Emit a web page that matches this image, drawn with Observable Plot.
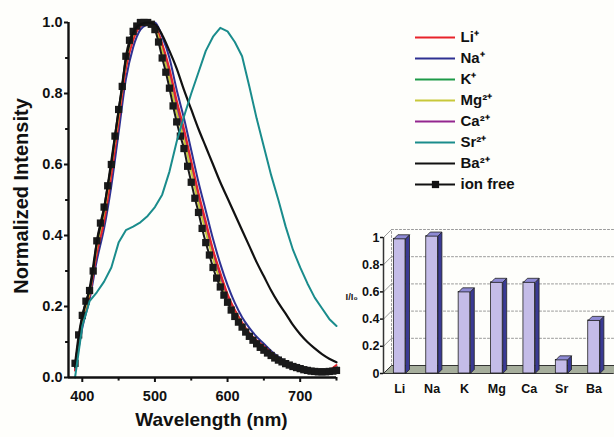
<!DOCTYPE html>
<html><head><meta charset="utf-8">
<script src="https://cdn.jsdelivr.net/npm/d3@7"></script>
<script src="https://cdn.jsdelivr.net/npm/@observablehq/plot@0.6"></script>
<style>
body{margin:0;background:#fff}
#fig{position:relative;width:614px;height:437px;background:#fefefb;overflow:hidden;font-family:"Liberation Sans",Arial,Helvetica,sans-serif}
#main,#legend,#inset{position:absolute}
#main{left:0;top:0}
#legend{left:400px;top:0}
#inset{left:330px;top:220px}
#main g[aria-label^="x-axis"] line,#main g[aria-label^="x-axis"] path,
#main g[aria-label^="y-axis"] line,#main g[aria-label^="y-axis"] path{stroke-width:2px}
#inset g[aria-label^="y-axis"] line,#inset g[aria-label^="y-axis"] path{stroke-width:1.5px}
</style>
</head><body>
<div id="fig"><div id="main"></div><div id="legend"></div><div id="inset"></div></div>
<script>
// ---------- data ----------
const wl10 = [390,400,410,420,430,440,450,460,470,480,490,500,510,520,530,540,550,560,570,580,590,600,610,620,630,640,650,660,670,680,690,700,710,720,730,740,750];
const wl5 = [390,395,400,405,410,415,420,425,430,435,440,445,450,455,460,465,470,475,480,485,490,495,500,505,510,515,520,525,530,535,540,545,550,555,560,565,570,575,580,585,590,595,600,605,610,615,620,625,630,635,640,645,650,655,660,665,670,675,680,685,690,695,700,705,710,715,720,725,730,735,740,745,750];
const ionFree = [0.04,0.12,0.175,0.215,0.245,0.30,0.385,0.435,0.48,0.54,0.60,0.68,0.755,0.82,0.905,0.95,0.975,0.99,1.0,1.0,1.0,0.995,0.98,0.945,0.9,0.86,0.815,0.765,0.72,0.68,0.645,0.595,0.55,0.505,0.465,0.42,0.38,0.345,0.31,0.28,0.255,0.232,0.212,0.19,0.172,0.156,0.142,0.128,0.116,0.105,0.095,0.085,0.077,0.069,0.062,0.055,0.049,0.044,0.039,0.035,0.031,0.028,0.025,0.022,0.02,0.018,0.017,0.016,0.016,0.016,0.017,0.018,0.02];
const li = [0.02,0.15,0.23,0.35,0.44,0.57,0.72,0.87,0.95,0.99,1.0,0.99,0.94,0.87,0.78,0.70,0.61,0.52,0.44,0.36,0.295,0.235,0.19,0.155,0.125,0.105,0.088,0.07,0.054,0.04,0.029,0.02,0.014,0.012,0.014,0.02,0.035];
const na = [0.02,0.14,0.22,0.33,0.42,0.54,0.69,0.84,0.93,0.98,0.995,1.0,0.96,0.9,0.81,0.73,0.64,0.55,0.47,0.39,0.32,0.26,0.21,0.17,0.14,0.115,0.095,0.075,0.058,0.044,0.032,0.023,0.017,0.014,0.015,0.02,0.03];
const k = [0.025,0.155,0.235,0.355,0.45,0.58,0.73,0.875,0.955,0.99,1.0,0.99,0.935,0.86,0.77,0.69,0.6,0.51,0.43,0.355,0.29,0.23,0.188,0.152,0.123,0.1,0.085,0.068,0.052,0.039,0.028,0.02,0.015,0.012,0.013,0.018,0.03];
const mg = [0.03,0.165,0.24,0.37,0.465,0.6,0.74,0.89,0.965,0.995,1.0,0.985,0.92,0.84,0.745,0.67,0.58,0.49,0.41,0.335,0.27,0.215,0.18,0.148,0.12,0.098,0.082,0.066,0.052,0.04,0.03,0.022,0.016,0.013,0.014,0.018,0.028];
const ca = [0.025,0.16,0.235,0.36,0.455,0.585,0.735,0.88,0.96,0.99,1.0,0.99,0.93,0.855,0.76,0.685,0.595,0.505,0.425,0.35,0.285,0.225,0.185,0.15,0.122,0.1,0.084,0.067,0.051,0.038,0.028,0.02,0.015,0.012,0.013,0.017,0.028];
const sr = [0.0,0.145,0.215,0.24,0.27,0.31,0.38,0.415,0.425,0.437,0.455,0.48,0.515,0.58,0.665,0.735,0.80,0.86,0.92,0.96,0.985,0.975,0.945,0.905,0.82,0.73,0.65,0.57,0.5,0.425,0.36,0.31,0.265,0.225,0.195,0.165,0.145];
const ba = [0.03,0.17,0.25,0.38,0.475,0.61,0.75,0.895,0.97,0.995,1.0,0.995,0.965,0.92,0.87,0.81,0.755,0.70,0.65,0.6,0.55,0.505,0.46,0.415,0.37,0.325,0.285,0.245,0.21,0.18,0.148,0.122,0.1,0.082,0.066,0.053,0.043];

const legendNames = ["Li⁺","Na⁺","K⁺","Mg²⁺","Ca²⁺","Sr²⁺","Ba²⁺","ion free"];
const seriesColors = ["#e8232a","#2e3192","#1d9a48","#c8c83a","#93278f","#1a8c8c","#111111","#111111"];

const ionCats = ["Li","Na","K","Mg","Ca","Sr","Ba"];
const ratio = [0.99,1.01,0.6,0.67,0.67,0.1,0.39];

const xTicks = [400,500,600,700];
const xMinor = [450,550,650,750];
const yTicks = [0,0.2,0.4,0.6,0.8,1.0];
const yMinor = [0.1,0.3,0.5,0.7,0.9];
const insetTicks = [0,0.2,0.4,0.6,0.8,1];

// ---------- helpers ----------
const FONT = '"Liberation Sans", Arial, Helvetica, sans-serif';
const toRows = (xs, vs) => xs.map((w, i) => ({w, v: vs[i]}));
const curves = [
  {vals: k, c: seriesColors[2]},
  {vals: ca, c: seriesColors[4]},
  {vals: na, c: seriesColors[1]},
  {vals: li, c: seriesColors[0]},
  {vals: mg, c: seriesColors[3]}
];
const ionRows = toRows(wl5, ionFree);

// ---------- main chart ----------
const main = Plot.plot({
  width: 345, height: 437,
  marginLeft: 68, marginRight: 9, marginTop: 22, marginBottom: 60,
  style: {background: "transparent", fontFamily: FONT, fontWeight: "bold", fontSize: "14.5px", color: "#111"},
  x: {domain: [381, 750], ticks: xTicks, tickSize: 5, tickPadding: 8, tickFormat: d => String(d), label: null},
  y: {domain: [0, 1], ticks: yTicks, tickSize: 4, tickPadding: 2, tickFormat: d3.format(".1f"), label: null},
  marks: [
    ...curves.map(s => Plot.line(toRows(wl10, s.vals), {x: "w", y: "v", stroke: s.c, strokeWidth: 2, curve: "monotone-x"})),
    Plot.line(ionRows, {x: "w", y: "v", stroke: "#1a1a1a", strokeWidth: 2, curve: "monotone-x"}),
    Plot.dot(ionRows, {x: "w", y: "v", symbol: "square", r: 4.1, fill: "#1a1a1a"}),
    Plot.line(toRows(wl10, ba), {x: "w", y: "v", stroke: "#111", strokeWidth: 2.2, curve: "monotone-x"}),
    Plot.line(toRows(wl10, sr), {x: "w", y: "v", stroke: seriesColors[5], strokeWidth: 2, curve: "linear"}),
    Plot.ruleX([381], {y1: 0, y2: 1, stroke: "#111", strokeWidth: 2.4}),
    Plot.ruleY([0], {x1: 381, x2: 750, stroke: "#111", strokeWidth: 2.4}),
    Plot.ruleY(yMinor, {x1: 377, x2: 381, stroke: "#111", strokeWidth: 2}),
    Plot.ruleX(xMinor, {y1: 0, y2: -0.01, stroke: "#111", strokeWidth: 2}),
    Plot.text(["Wavelength (nm)"], {frameAnchor: "bottom", textAnchor: "middle", lineAnchor: "middle", dx: 9, dy: 42, fontSize: 19, fontWeight: "bold", fill: "#111"}),
    Plot.text(["Normalized Intensity"], {frameAnchor: "left", textAnchor: "middle", lineAnchor: "middle", dx: -47, dy: -4, rotate: -90, fontSize: 20, fontWeight: "bold", fill: "#111", ariaLabel: "ylabel"})
  ]
});
document.getElementById("main").appendChild(main);
// stretch the rotated axis title to the length it has in the reference
main.querySelectorAll('g[aria-label="ylabel"] text').forEach(t => {
  t.setAttribute("textLength", "268");
  t.setAttribute("lengthAdjust", "spacingAndGlyphs");
});

// ---------- legend ----------
const legendRows = legendNames.map((n, i) => ({name: n, color: seriesColors[i]}));
const legend = Plot.plot({
  width: 214, height: 215, margin: 0,
  style: {background: "transparent", fontFamily: FONT, fontWeight: "bold", color: "#111"},
  x: {domain: [0, 1], range: [15, 55], axis: null},
  y: {type: "point", domain: legendNames, range: [24, 196], axis: null},
  marks: [
    ...legendRows.map(r => Plot.ruleY([r.name], {x1: 0, x2: 1, stroke: r.color, strokeWidth: 2.2})),
    Plot.dot(["ion free"], {x: 0.5, y: d => d, symbol: "square", r: 4.1, fill: "#111"}),
    Plot.text(legendRows, {x: 1, y: "name", text: "name", textAnchor: "start", fontSize: 15, fontWeight: "bold", fill: "#111", dx: 5})
  ]
});
document.getElementById("legend").appendChild(legend);

// ---------- inset bar chart ----------
const D = 0.247, DY = 0.0588;   // floor / wall depth (data units)
const d = 0.123, dy = 0.03;     // bar depth
const hw = 0.18;
const xL = -0.5, xR = 6.6;
const floorPoly = [[xL,0],[xR,0],[xR+D,DY],[xL+D,DY],[xL,0]].map(([x,y]) => ({id: "floor", x, y}));
const wallLines = insetTicks.filter(t => t > 0).flatMap(t => [{id: "g"+t, x: xL+D, y: t+DY}, {id: "g"+t, x: xR+D, y: t+DY}]);
const sideLines = insetTicks.flatMap(t => [{id: "s"+t, x: xL, y: t}, {id: "s"+t, x: xL+D, y: t+DY}]);
const backEdge = [{id: "be", x: xL+D, y: DY}, {id: "be", x: xL+D, y: 1+DY}];
const bars = ratio.map((v, i) => ({i, v, name: ionCats[i]}));
const sidePolys = bars.flatMap(b => [[b.i+hw,0],[b.i+hw,b.v],[b.i+hw+d,b.v+dy],[b.i+hw+d,dy],[b.i+hw,0]].map(([x,y]) => ({id: b.name, x, y})));
const topPolys = bars.flatMap(b => [[b.i-hw,b.v],[b.i+hw,b.v],[b.i+hw+d,b.v+dy],[b.i-hw+d,b.v+dy],[b.i-hw,b.v]].map(([x,y]) => ({id: b.name, x, y})));

const inset = Plot.plot({
  width: 284, height: 217,
  marginLeft: 53, marginRight: 1, marginTop: 17, marginBottom: 64,
  style: {background: "transparent", fontFamily: FONT, fontWeight: "bold", fontSize: "12.5px", color: "#111"},
  x: {domain: [xL, xR], ticks: [0,1,2,3,4,5,6], tickFormat: i => ionCats[i], tickSize: 0, tickPadding: 11, label: null},
  y: {domain: [0, 1], ticks: insetTicks, tickFormat: t => String(t), tickSize: 3, tickPadding: 1, label: null},
  marks: [
    Plot.line(wallLines, {x: "x", y: "y", z: "id", stroke: "#9a9a9a", strokeWidth: 1, strokeDasharray: "2,2"}),
    Plot.line(sideLines, {x: "x", y: "y", z: "id", stroke: "#9a9a9a", strokeWidth: 1}),
    Plot.line(backEdge, {x: "x", y: "y", z: "id", stroke: "#9a9a9a", strokeWidth: 1, strokeDasharray: "2,2"}),
    Plot.line(floorPoly, {x: "x", y: "y", z: "id", fill: "#a6ae9c", stroke: "#333", strokeWidth: 1}),
    Plot.rect(bars, {x1: b => b.i - hw, x2: b => b.i + hw, y1: 0, y2: "v", fill: "#c4bce8", stroke: "#222", strokeWidth: 0.8}),
    Plot.line(sidePolys, {x: "x", y: "y", z: "id", fill: "#3a3a94", stroke: "#222", strokeWidth: 0.8}),
    Plot.line(topPolys, {x: "x", y: "y", z: "id", fill: "#8e8ad4", stroke: "#222", strokeWidth: 0.8}),
    Plot.ruleX([xL], {y1: 0, y2: 1, stroke: "#333", strokeWidth: 1.5}),
    Plot.text(["I/I₀"], {frameAnchor: "left", dx: -38, dy: -9, fontSize: 9.5, fontWeight: "bold", fill: "#222"})
  ]
});
document.getElementById("inset").appendChild(inset);
</script>
</body></html>
